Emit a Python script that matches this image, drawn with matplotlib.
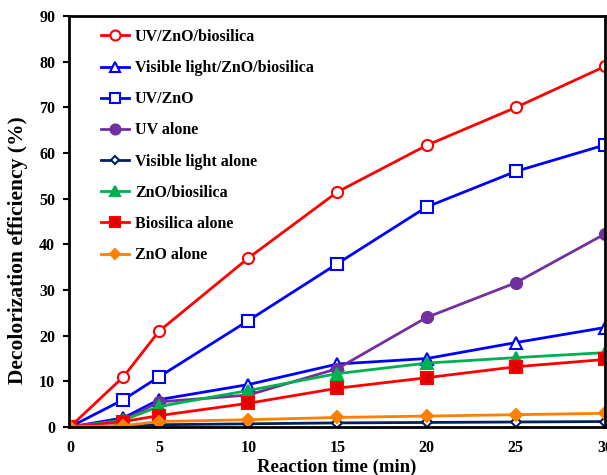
import numpy as np
import matplotlib.pyplot as plt

plt.rcParams['font.family'] = ['Liberation Serif', 'DejaVu Serif']
plt.rcParams['font.weight'] = 'bold'

time = [0, 3, 5, 10, 15, 20, 25, 30]
uv_zno_bio = [0, 11, 21, 37, 51.5, 61.7, 70, 79]
vis_zno_bio = [0, 2, 6, 9.3, 13.8, 15, 18.5, 21.8]
uv_zno = [0, 6, 11, 23.3, 35.8, 48.2, 56, 61.8]
uv_alone = [0, 1.5, 5.5, 7, 12.8, 24, 31.6, 42.3]
vis_alone = [0, 0.3, 0.5, 0.7, 0.9, 1.0, 1.1, 1.2]
zno_bio = [0, 1.5, 4.5, 8, 11.7, 14, 15.2, 16.3]
bio_alone = [0, 1.2, 2.5, 5.2, 8.5, 10.8, 13.2, 14.8]
zno_alone = [0, 0.3, 1.2, 1.6, 2.1, 2.4, 2.7, 3.0]

series = [
    ('UV/ZnO/biosilica', uv_zno_bio, '#FF0000', 'o', 'white', 8),
    ('Visible light/ZnO/biosilica', vis_zno_bio, '#0000FF', '^', 'white', 8),
    ('UV/ZnO', uv_zno, '#0000FF', 's', 'white', 8),
    ('UV alone', uv_alone, '#7030A0', 'o', '#7030A0', 8),
    ('Visible light alone', vis_alone, '#002060', 'D', 'white', 5),
    ('ZnO/biosilica', zno_bio, '#00B050', '^', '#00B050', 8),
    ('Biosilica alone', bio_alone, '#FF0000', 's', '#E00000', 8),
    ('ZnO alone', zno_alone, '#FF7F00', 'D', '#FF7F00', 6),
]

fig = plt.figure(figsize=(6.07, 4.75), dpi=100)
ax = fig.add_axes([0.1137, 0.101, 0.883, 0.865])

for label, y, c, m, fc, ms in series:
    ax.plot(time, y, color=c, marker=m, markerfacecolor=fc, markeredgecolor=c,
            markersize=ms, markeredgewidth=1.5, linewidth=2, label=label)

ax.set_xlim(-0.05, 30)
ax.set_ylim(0, 90)
ax.set_xticks([0, 5, 10, 15, 20, 25, 30])
ax.set_yticks(np.arange(0, 91, 10))
ax.tick_params(axis='y', direction='out', length=4, width=1.5, labelsize=11.5, pad=6)
ax.tick_params(axis='x', direction='in', length=0, width=1.5, labelsize=11.5, pad=9)
for s in ax.spines.values():
    s.set_linewidth(2)

ax.set_xlabel('Reaction time (min)', fontsize=13.5, fontweight='bold', labelpad=2)
ax.set_ylabel('Decolorization efficiency (%)', fontsize=15.5, fontweight='bold')
ax.yaxis.set_label_coords(-0.077, 0.43)

ax.legend(loc='upper left', frameon=False, fontsize=11.5, labelspacing=0.95,
          handlelength=1.8, handletextpad=0.35, markerscale=0.9,
          bbox_to_anchor=(0.035, 1.0), borderaxespad=0.4)

fig.savefig('out.png', dpi=100)
